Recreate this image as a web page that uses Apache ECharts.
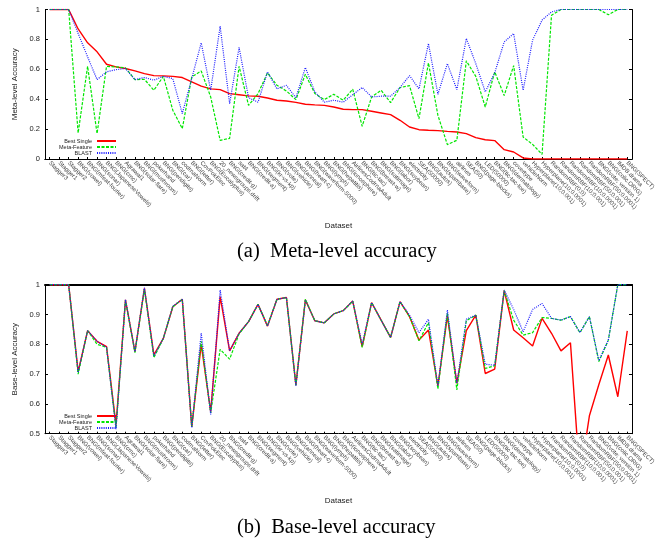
<!DOCTYPE html>
<html>
<head>
<meta charset="utf-8">
<script src="https://cdn.jsdelivr.net/npm/echarts@6/dist/echarts.min.js"></script>
<style>
html,body{margin:0;padding:0;background:#fff;}
#chart{width:669px;height:542px;}
</style>
</head>
<body>
<div id="chart"></div>
<script>
var categories = [
  'Stagger3','Stagger1','Stagger2','BNG(vowel)','BNG(mfeat-fourier)','BNG(sonar)','BNG(JapaneseVowels)','BNG(cmc)',
  'Agrawal1','BNG(solar-flare)','BNG(mushroom)','pokerhand','BNG(pendigits)','BNG(car)','codrnaNorm','BNG(letter)',
  'CovPokElec','BNG(Eucalyptus)','20_newsgroups.drift','BNG(credit-g)','sat4','BNG(credit-a)','BNG(segment)','BNG(kr-vs-kp)',
  'BNG(vote)','BNG(vehicle)','BNG(anneal)','BNG(heart-c)','BNG(waveform-5000)','BNG(lymph)','BNG(hepatitis)','BNG(ionosphere)',
  'AirlinesCodrnaAdult','BNG(tic-tac)','BNG(breast-w)','BNG(satimage)','BNG(labor)','BNG(soybean)','electricity','SEA(50000)',
  'BNG(autos)','BNG(spambase)','BNG(waveform)','airlines','SEA(50)','BNG(page-blocks)','LED(50000)','BNG(tic-tac-toe)',
  'BNG(dermatology)','covertype','vehicleNorm','Hyperplane(10;0.001)','Hyperplane(10;0.0001)','RandomRBF(0;0)',
  'RandomRBF(10;0.001)','RandomRBF(10;0.0001)','RandomRBF(50;0.001)','RandomRBF(50;0.0001)','BNG(vote; version 1)',
  'BNG(colic.ORIG)','IMDB.drama','BNG(SPECT)'
];

var seriesNames = ['Best Single', 'Meta-Feature', 'BLAST'];

var metaBest = [1,1,1,0.87,0.777,0.717,0.634,0.616,0.605,0.589,0.571,0.558,0.556,0.553,0.545,0.516,
  0.487,0.469,0.464,0.4375,0.43,0.422,0.42,0.408,0.393,0.388,0.379,0.366,0.362,0.359,0.348,0.333,
  0.330,0.330,0.319,0.308,0.297,0.259,0.214,0.196,0.192,0.190,0.185,0.181,0.170,0.143,0.129,0.123,
  0.0625,0.047,0.007,0,0,0,0,0,0,0,0,0,0,0];
var metaFeature = [1,1,1,0.174,0.62,0.17,0.62,0.616,0.61,0.531,0.533,0.46,0.553,0.326,0.203,0.549,
  0.589,0.415,0.125,0.138,0.62,0.359,0.4375,0.576,0.493,0.455,0.397,0.567,0.4375,0.397,0.433,0.393,
  0.467,0.219,0.415,0.46,0.377,0.478,0.491,0.27,0.643,0.292,0.096,0.125,0.656,0.553,0.348,0.583,
  0.424,0.625,0.147,0.098,0.031,0.962,1,1,1,1,1,0.965,1,1];
var metaBlast = [1,1,1,0.84,0.683,0.531,0.583,0.598,0.605,0.531,0.545,0.527,0.553,0.538,0.304,0.538,
  0.777,0.46,0.888,0.37,0.746,0.41,0.38,0.583,0.469,0.493,0.41,0.612,0.449,0.38,0.393,0.38,
  0.43,0.478,0.415,0.42,0.42,0.478,0.558,0.469,0.772,0.433,0.638,0.464,0.806,0.638,0.449,0.576,
  0.783,0.839,0.46,0.795,0.929,0.984,1,1,1,1,1,1,1,1];

var baseBest = [1,1,1,0.708,0.846,0.81,0.792,0.53,0.949,0.775,0.988,0.765,0.82,0.926,0.951,0.523,
  0.80,0.574,0.96,0.778,0.837,0.876,0.934,0.861,0.951,0.957,0.663,0.949,0.879,0.872,0.902,0.913,
  0.945,0.792,0.94,0.881,0.823,0.943,0.893,0.814,0.848,0.66,0.895,0.669,0.846,0.898,0.702,0.717,
  0.98,0.848,0.822,0.794,0.887,0.837,0.778,0.805,0.35,0.56,0.665,0.764,0.624,0.845];
var baseFeature = [1,1,1,0.70,0.846,0.80,0.79,0.52,0.948,0.772,0.985,0.755,0.82,0.926,0.951,0.523,
  0.81,0.57,0.783,0.75,0.835,0.876,0.934,0.863,0.951,0.957,0.663,0.951,0.879,0.872,0.902,0.913,
  0.945,0.79,0.94,0.881,0.823,0.943,0.893,0.812,0.873,0.65,0.905,0.647,0.879,0.898,0.719,0.728,
  0.98,0.881,0.831,0.839,0.89,0.887,0.881,0.893,0.839,0.893,0.742,0.814,1,1];
var baseBlast = [1,1,1,0.705,0.846,0.81,0.79,0.515,0.95,0.775,0.99,0.76,0.82,0.928,0.951,0.52,
  0.838,0.565,0.982,0.778,0.837,0.876,0.934,0.861,0.951,0.957,0.66,0.949,0.879,0.872,0.902,0.913,
  0.945,0.80,0.94,0.881,0.823,0.943,0.898,0.839,0.884,0.66,0.915,0.669,0.884,0.898,0.733,0.73,
  0.982,0.917,0.842,0.917,0.937,0.887,0.881,0.893,0.839,0.893,0.745,0.814,1,1];

var metaTicks = {min: 0, max: 1, interval: 0.2};
var baseTicks = {min: 0.5, max: 1, interval: 0.1};

var FONT = 'Liberation Sans';
var chart = echarts.init(document.getElementById('chart'), null, {renderer: 'canvas'});

function xAxes(gi, topWidth) {
  return [{
    type: 'category', gridIndex: gi, data: categories, boundaryGap: true, position: 'bottom',
    name: 'Dataset', nameLocation: 'middle', nameGap: 63,
    nameTextStyle: {fontFamily: FONT, fontSize: 8, color: '#222'},
    axisLine: {show: true, lineStyle: {color: '#000', width: 1}},
    axisTick: {show: true, inside: true, alignWithLabel: true, length: 2, lineStyle: {color: '#000'}},
    axisLabel: {show: true, interval: 0, rotate: -45, fontFamily: FONT, fontSize: 6, color: '#444', margin: 3},
    splitLine: {show: false}
  }, {
    type: 'category', gridIndex: gi, data: categories, boundaryGap: true, position: 'top',
    axisLine: {show: true, lineStyle: {color: '#000', width: topWidth}},
    axisTick: {show: false}, axisLabel: {show: false}, splitLine: {show: false}
  }];
}
function yAxes(gi, t, name) {
  return [{
    type: 'value', gridIndex: gi, min: t.min, max: t.max, interval: t.interval, position: 'left',
    name: name, nameLocation: 'middle', nameGap: 19,
    nameTextStyle: {fontFamily: FONT, fontSize: 8, color: '#222'},
    axisLine: {show: true, lineStyle: {color: '#000', width: 1}},
    axisTick: {show: true, inside: true, length: 3, lineStyle: {color: '#000'}},
    axisLabel: {fontFamily: FONT, fontSize: 7.5, color: '#222', margin: 5},
    splitLine: {show: false}
  }, {
    type: 'value', gridIndex: gi, min: t.min, max: t.max, interval: t.interval, position: 'right',
    axisLine: {show: true, lineStyle: {color: '#000', width: 1}},
    axisTick: {show: true, inside: true, length: 3, lineStyle: {color: '#000'}},
    axisLabel: {show: false}, splitLine: {show: false}
  }];
}
function mkSeries(xi, yi, data, idx) {
  var styles = [
    {color: '#ff0000', width: 1.4, type: 'solid'},
    {color: '#00e600', width: 1.2, type: [3, 1.5]},
    {color: '#1a1aff', width: 1.2, type: [1, 1.2]}
  ];
  var s = styles[idx];
  return {
    type: 'line', name: seriesNames[idx], xAxisIndex: xi, yAxisIndex: yi, data: data,
    symbol: 'none', showSymbol: false, clip: true, z: 2 + idx,
    itemStyle: {color: s.color},
    lineStyle: {color: s.color, width: s.width, type: s.type}
  };
}
function legend(top) {
  return {
    orient: 'vertical', align: 'right', right: 552, top: top,
    itemWidth: 19, itemHeight: 6, itemGap: 0, padding: 0,
    data: seriesNames,
    itemStyle: {opacity: 0},
    textStyle: {fontFamily: FONT, fontSize: 5.5, color: '#222', lineHeight: 6},
    selectedMode: false
  };
}

var option = {
  animation: false,
  backgroundColor: '#fff',
  title: [
    {text: '(a)  Meta-level accuracy', left: 237, top: 241,
     textStyle: {fontFamily: 'Liberation Serif', fontSize: 20.5, fontWeight: 'normal', color: '#000'}, padding: 0},
    {text: '(b)  Base-level accuracy', left: 237, top: 517,
     textStyle: {fontFamily: 'Liberation Serif', fontSize: 20.5, fontWeight: 'normal', color: '#000'}, padding: 0}
  ],
  legend: [legend(138), legend(413)],
  grid: [
    {left: 45, right: 37, top: 9.5, height: 149.5, outerBoundsMode: 'none'},
    {left: 45, right: 37, top: 284.7, height: 149, outerBoundsMode: 'none'}
  ],
  xAxis: xAxes(0, 1).concat(xAxes(1, 2)),
  yAxis: yAxes(0, metaTicks, 'Meta-level Accuracy').concat(yAxes(1, baseTicks, 'Base-level Accuracy')),
  series: [
    mkSeries(0, 0, metaBest, 0), mkSeries(0, 0, metaFeature, 1), mkSeries(0, 0, metaBlast, 2),
    mkSeries(2, 2, baseBest, 0), mkSeries(2, 2, baseFeature, 1), mkSeries(2, 2, baseBlast, 2)
  ]
};
chart.setOption(option);
</script>
</body>
</html>
